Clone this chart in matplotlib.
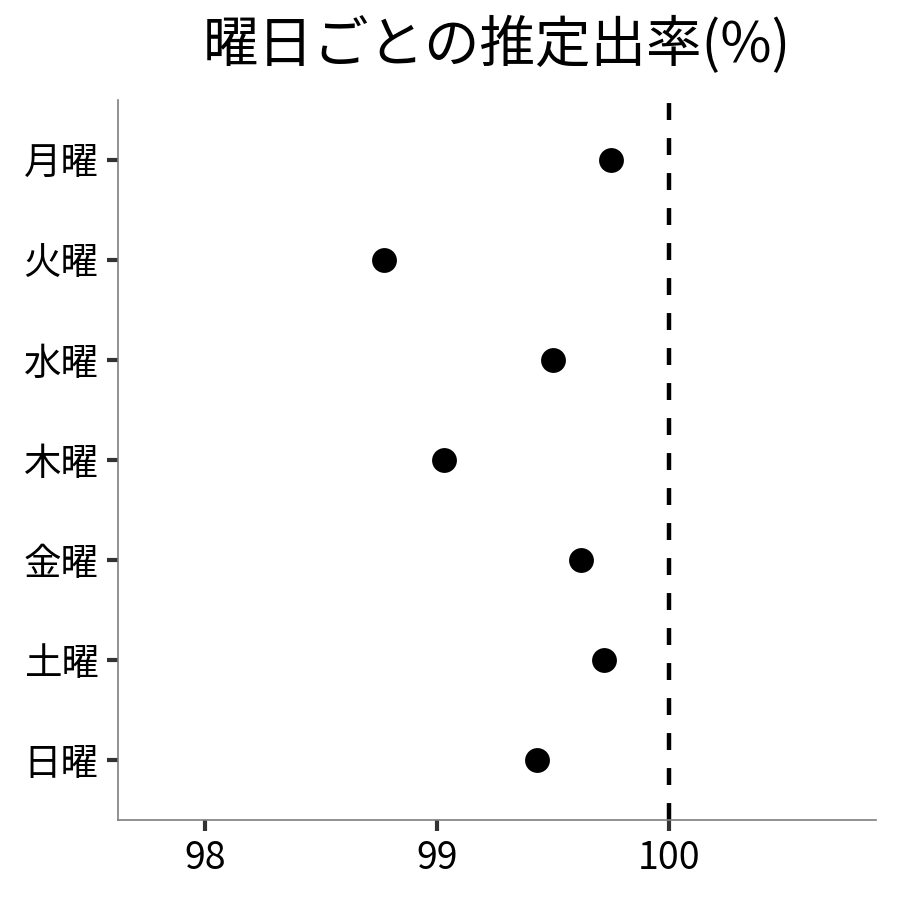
import matplotlib
matplotlib.use("Agg")
import matplotlib.pyplot as plt

plt.rcParams['font.family'] = ['Noto Sans CJK JP', 'DejaVu Sans']

days = ["月曜", "火曜", "水曜", "木曜", "金曜", "土曜", "日曜"]
rates = [99.75, 98.77, 99.50, 99.03, 99.62, 99.72, 99.43]
ref_line = 100
xticks = [98, 99, 100]

fig = plt.figure(figsize=(9, 9), dpi=100)
ax = fig.add_axes([118/900, 1 - 820/900, (876 - 118)/900, (820 - 100)/900])

ypos = list(range(len(days)))
ax.scatter(rates, ypos, s=320, color='black', zorder=3, linewidths=0)

lw = 3.2
ax.axvline(ref_line, color='black', linewidth=lw, dashes=(12.2/lw, 13/lw), zorder=2)

ax.set_xlim(97.625, 100.892)
ax.set_ylim(len(days) - 0.4, -0.6)
ax.set_yticks(ypos)
ax.set_yticklabels(days)
ax.set_xticks(xticks)
ax.set_xticklabels([str(t) for t in xticks])

for s in ['top', 'right']:
    ax.spines[s].set_visible(False)
for s in ['left', 'bottom']:
    ax.spines[s].set_color('#7f7f7f')
    ax.spines[s].set_linewidth(1.2)

ax.tick_params(axis='both', length=8, width=3, color='#333333', labelsize=27, pad=6)
ax.set_title("曜日ごとの推定出率(%)", fontsize=40, pad=27)

fig.savefig("out.png", dpi=100)
